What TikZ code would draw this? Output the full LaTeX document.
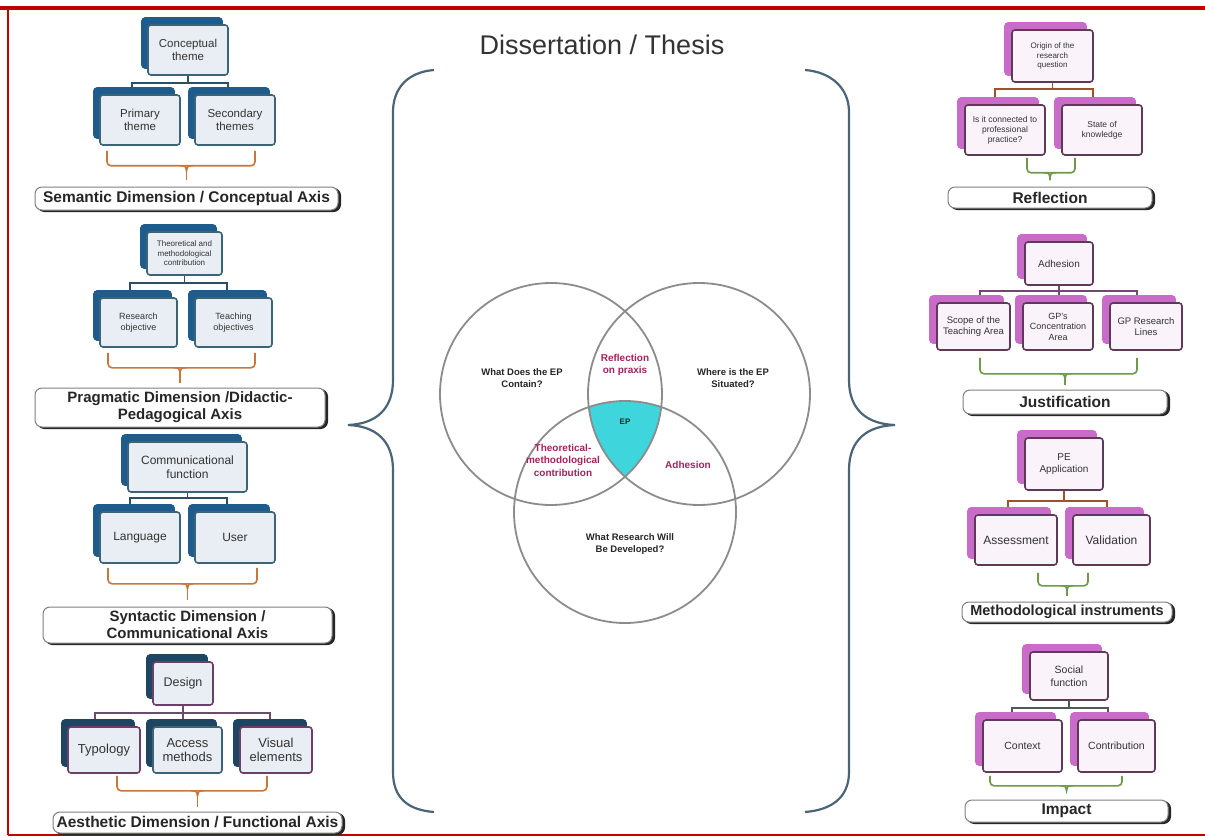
\documentclass[tikz,border=0pt]{standalone}
\usepackage{fontspec}
\setmainfont{Liberation Sans}
\usetikzlibrary{shadows,calc}
\definecolor{framered}{HTML}{C00000}
\definecolor{bfill}{HTML}{E9EEF4}
\definecolor{bborder}{HTML}{3B6577}
\definecolor{bshadow}{HTML}{1F5C8E}
\definecolor{dshadow}{HTML}{1E4561}
\definecolor{mborder}{HTML}{6B3F68}
\definecolor{pfill}{HTML}{FBF3FA}
\definecolor{pborder}{HTML}{5E3A58}
\definecolor{pshadow}{HTML}{C96BC9}
\definecolor{cblue}{HTML}{2E4E63}
\definecolor{cmauve}{HTML}{6E4A6E}
\definecolor{csienna}{HTML}{A0522D}
\definecolor{cslate}{HTML}{4E5A5A}
\definecolor{corange}{HTML}{C8773C}
\definecolor{cgreen}{HTML}{6E9A4A}
\definecolor{txtgray}{HTML}{333333}
\definecolor{labgray}{HTML}{808080}
\definecolor{bracecol}{HTML}{4A6478}
\definecolor{venngray}{HTML}{8C8C8C}
\definecolor{venncyan}{HTML}{3FD5DC}
\definecolor{vennmag}{HTML}{A3245C}
\newcommand\fsz[2]{\fontsize{#1}{#2}\selectfont}
% bracket tick: #1 colour, #2 coordinate on the bracket's horizontal, #3 label node, #4 gap above label
\newcommand\brtick[4]{%
  \draw[line width=1.6pt, draw=#1] ($(#2 -| #3.north)+(-6,0)$) .. controls ($(#2 -| #3.north)+(-1,0)$) .. ($(#2 -| #3.north)+(0,5)$) .. controls ($(#2 -| #3.north)+(1,0)$) .. ($(#2 -| #3.north)+(6,0)$);
  \draw[line width=1.6pt, draw=#1] ($(#2 -| #3.north)+(0,4)$) -- ([yshift=#4]#3.north);}
\tikzset{
  bx/.style={rectangle, rounded corners=3pt, draw=#1, line width=1.6pt, align=center, inner sep=1pt, text=txtgray},
  bluebox/.style={bx=#1, fill=bfill, general shadow={shadow xshift=-6pt, shadow yshift=7pt, fill=bshadow, draw=bshadow}},
  navybox/.style={bx=#1, fill=bfill, general shadow={shadow xshift=-6pt, shadow yshift=7pt, fill=dshadow, draw=dshadow}},
  pinkbox/.style={bx=pborder, fill=pfill, general shadow={shadow xshift=-7pt, shadow yshift=7pt, fill=pshadow, draw=pshadow}},
  lab/.style={rectangle, rounded corners=7pt, draw=labgray, line width=1pt, fill=white, align=center, inner sep=0pt, text=black!85, general shadow={shadow xshift=2.5pt, shadow yshift=-1.5pt, fill=black!85, draw=black!85}},
  conn/.style={line width=1.6pt, draw=#1},
  brk/.style={line width=1.6pt, draw=#1, rounded corners=4pt},
  brace/.style={line width=2.2pt, draw=bracecol},
  venn/.style={line width=1.8pt, draw=venngray},
  vt/.style={align=center, font=\bfseries\fsz{9.5}{12.5}, text=black!85},
  vm/.style={align=center, font=\bfseries\fsz{10}{12.5}, text=vennmag},
}
\begin{document}
\begin{tikzpicture}[x=1pt, y=-1pt]
\useasboundingbox (0,0) rectangle (1205,840);
\fill[white] (0,0) rectangle (1205,840);
% frame
\draw[framered, line width=3.5pt] (0,8) -- (1205,8);
\draw[framered, line width=2pt] (8,8) -- (8,835);
\draw[framered, line width=2.5pt] (8,835) -- (1205,835);

% title
\node[font=\fsz{27}{30}, text=black!80] (title) at (602,45) {Dissertation / Thesis};

% braces
\draw[brace] (434,70) .. controls (408,72) and (393,88) .. (393,112) -- (393,380) .. controls (393,410) and (375,424) .. (348,425) .. controls (375,426) and (393,440) .. (393,470) -- (393,772) .. controls (393,798) and (408,810) .. (434,812);
\draw[brace] (805,70) .. controls (831,72) and (849,88) .. (849,112) -- (849,380) .. controls (849,410) and (867,424) .. (895,425) .. controls (867,426) and (849,440) .. (849,470) -- (849,772) .. controls (849,798) and (831,810) .. (805,812);

% ===== Left group 1 =====
\node[bluebox=bborder, minimum width=80pt, minimum height=50pt, font=\fsz{11.5}{13.5}] (ct) at (188,50) {Conceptual\\theme};
\node[bluebox=bborder, minimum width=80pt, minimum height=50pt, font=\fsz{11.5}{13.5}] (pt) at (140,120) {Primary\\theme};
\node[bluebox=bborder, minimum width=80pt, minimum height=50pt, font=\fsz{11.5}{13.5}] (st) at (235,120) {Secondary\\themes};
\draw[conn=cblue] (ct.south) -- ++(0,7) coordinate (j1);
\draw[conn=cblue] ([shift={(-8pt,7pt)}]pt.north) |- (j1) -| ([shift={(-7pt,7pt)}]st.north);
\node[lab, minimum width=303pt, minimum height=23pt, font=\bfseries\fsz{15.5}{16}] (lab1) at (186.5,198.5) {Semantic Dimension / Conceptual Axis};
\draw[brk=corange] ([shift={(-33pt,-5pt)}]pt.south) -- ++(0,15) coordinate (h1) -| ([shift={(20pt,-5pt)}]st.south);
\brtick{corange}{h1}{lab1}{7pt}

% ===== Left group 2 =====
\node[bluebox=bborder, minimum width=75pt, minimum height=43pt, font=\fsz{8}{9.5}] (tm) at (184.5,253.5) {Theoretical and\\methodological\\contribution};
\node[bluebox=bborder, minimum width=77pt, minimum height=49pt, font=\fsz{9}{11}] (ro) at (138.5,322.5) {Research\\objective};
\node[bluebox=bborder, minimum width=77pt, minimum height=49pt, font=\fsz{9}{11}] (to) at (233.5,322.5) {Teaching\\objectives};
\draw[conn=cblue] (tm.south) -- ++(0,7) coordinate (j2);
\draw[conn=cblue] ([shift={(-8.5pt,7pt)}]ro.north) |- (j2) -| ([shift={(-6.5pt,7pt)}]to.north);
\node[lab, minimum width=290pt, minimum height=39pt, font=\bfseries\fsz{15}{17}] (lab2) at (180,407.5) {Pragmatic Dimension /Didactic-\\Pedagogical Axis};
\draw[brk=corange] ([shift={(-30.5pt,-5pt)}]ro.south) -- ++(0,15) coordinate (h2) -| ([shift={(21.5pt,-5pt)}]to.south);
\brtick{corange}{h2}{lab2}{5pt}

% ===== Left group 3 =====
\node[bluebox=bborder, minimum width=119pt, minimum height=50pt, font=\fsz{12}{14}] (cf) at (187.5,467) {Communicational\\function};
\node[bluebox=bborder, minimum width=80pt, minimum height=51pt, font=\fsz{12}{14}] (lg) at (140,537.5) {Language};
\node[bluebox=bborder, minimum width=80pt, minimum height=51pt, font=\fsz{12}{14}] (us) at (235,537.5) {User};
\draw[conn=cblue] (cf.south) -- ++(0,5) coordinate (j3);
\draw[conn=cblue] ([shift={(-10pt,7pt)}]lg.north) |- (j3) -| ([shift={(-8pt,7pt)}]us.north);
\node[lab, minimum width=289pt, minimum height=36pt, font=\bfseries\fsz{15}{17}] (lab3) at (187.5,625) {Syntactic Dimension /\\Communicational Axis};
\draw[brk=corange] ([shift={(-32pt,-4pt)}]lg.south) -- ++(0,16) coordinate (h3) -| ([shift={(22pt,-4pt)}]us.south);
\brtick{corange}{h3}{lab3}{7pt}

% ===== Left group 4 =====
\node[navybox=mborder, minimum width=60pt, minimum height=43pt, font=\fsz{12.5}{14}] (dg) at (183,683.5) {Design};
\node[navybox=mborder, minimum width=72pt, minimum height=46pt, font=\fsz{13}{14.5}] (ty) at (104,750) {Typology};
\node[navybox=bborder, minimum width=69pt, minimum height=46pt, font=\fsz{13}{14.5}] (am) at (187.5,750) {Access\\methods};
\node[navybox=mborder, minimum width=72pt, minimum height=46pt, font=\fsz{13}{14.5}] (ve) at (276,750) {Visual\\elements};
\draw[conn=cmauve] (dg.south) -- ([shift={(-4.5pt,7pt)}]am.north);
\coordinate (j4) at ([yshift=-7pt]dg.south);
\draw[conn=cmauve] ([shift={(-9pt,7pt)}]ty.north) |- (j4) -| ([shift={(-6pt,7pt)}]ve.north);
\node[lab, minimum width=289pt, minimum height=21pt, font=\bfseries\fsz{15.5}{16}] (lab4) at (197.5,822.5) {Aesthetic Dimension / Functional Axis};
\draw[brk=corange] ([shift={(13pt,-2pt)}]ty.south) -- ++(0,15) coordinate (h4) -| ([shift={(-9pt,-2pt)}]ve.south);
\brtick{corange}{h4}{lab4}{5pt}

% ===== Right group 1 =====
\node[pinkbox, minimum width=81pt, minimum height=52pt, font=\fsz{8}{9.5}] (oq) at (1052.5,56) {Origin of the\\research\\question};
\node[pinkbox, minimum width=80pt, minimum height=50pt, font=\fsz{8.5}{10}] (ic) at (1005,130) {Is it connected to\\professional\\practice?};
\node[pinkbox, minimum width=80pt, minimum height=50pt, font=\fsz{8.5}{10}] (sk) at (1102,130) {State of\\knowledge};
\draw[conn=csienna] (oq.south) -- ++(0,6) coordinate (j5);
\draw[conn=csienna] ([shift={(-10pt,7pt)}]ic.north) |- (j5) -| ([shift={(-9pt,7pt)}]sk.north);
\node[lab, minimum width=204pt, minimum height=21pt, font=\bfseries\fsz{15.5}{17}] (lab5) at (1050,197.5) {Reflection};
\draw[brk=cgreen] ([shift={(22pt,-2pt)}]ic.south) -- ++(0,15) coordinate (h5) -| ([shift={(-27pt,-2pt)}]sk.south);
\brtick{cgreen}{h5}{lab5}{7pt}

% ===== Right group 2 =====
\node[pinkbox, minimum width=68pt, minimum height=43pt, font=\fsz{10}{12}] (ad) at (1059,263.5) {Adhesion};
\node[pinkbox, minimum width=73pt, minimum height=47pt, font=\fsz{9.5}{11}] (sc) at (973.5,326.5) {Scope of the\\Teaching Area};
\node[pinkbox, minimum width=70pt, minimum height=47pt, font=\fsz{9}{10.5}] (gc) at (1058,326.5) {GP's\\Concentration\\Area};
\node[pinkbox, minimum width=72pt, minimum height=47pt, font=\fsz{9.5}{11}] (gr) at (1146,326.5) {GP Research\\Lines};
\draw[conn=cmauve] (ad.south) -- ([shift={(1pt,7pt)}]gc.north);
\coordinate (j6) at ([yshift=-5pt]ad.south);
\draw[conn=cmauve] ([shift={(6.5pt,7pt)}]sc.north) |- (j6) -| ([shift={(-9pt,7pt)}]gr.north);
\node[lab, minimum width=204pt, minimum height=24pt, font=\bfseries\fsz{15.5}{17}] (lab6) at (1065,402) {Justification};
\draw[brk=cgreen] ([shift={(6.5pt,-7pt)}]sc.south) -- ++(0,16) coordinate (h6) -| ([shift={(-9pt,-7pt)}]gr.south);
\brtick{cgreen}{h6}{lab6}{5pt}

% ===== Right group 3 =====
\node[pinkbox, minimum width=78pt, minimum height=52pt, font=\fsz{10}{12}] (pe) at (1064,464) {PE\\Application};
\node[pinkbox, minimum width=82pt, minimum height=50pt, font=\fsz{12}{14}] (as) at (1016,540) {Assessment};
\node[pinkbox, minimum width=77pt, minimum height=50pt, font=\fsz{12}{14}] (va) at (1111.5,540) {Validation};
\draw[conn=csienna] (pe.south) -- ++(0,10) coordinate (j7);
\draw[conn=csienna] ([shift={(-8pt,7pt)}]as.north) |- (j7) -| ([shift={(-4.5pt,7pt)}]va.north);
\node[lab, minimum width=210pt, minimum height=20pt, font=\bfseries\fsz{14.5}{16}] (lab7) at (1067,612) {Methodological instruments};
\draw[brk=cgreen] ([shift={(22pt,-7pt)}]as.south) -- ++(0,13) coordinate (h7) -| ([shift={(-23.5pt,-7pt)}]va.south);
\brtick{cgreen}{h7}{lab7}{6pt}

% ===== Right group 4 =====
\node[pinkbox, minimum width=78pt, minimum height=48pt, font=\fsz{10.5}{12.5}] (sf) at (1069,676) {Social\\function};
\node[pinkbox, minimum width=79pt, minimum height=52pt, font=\fsz{10.5}{12.5}] (cx) at (1022.5,746) {Context};
\node[pinkbox, minimum width=77pt, minimum height=52pt, font=\fsz{10.5}{12.5}] (cb) at (1116.5,746) {Contribution};
\draw[conn=cslate] (sf.south) -- ++(0,7) coordinate (j8);
\draw[conn=cslate] ([shift={(-10.5pt,7pt)}]cx.north) |- (j8) -| ([shift={(-8.5pt,7pt)}]cb.north);
\node[lab, minimum width=203pt, minimum height=22pt, font=\bfseries\fsz{15.5}{17}] (lab8) at (1066.5,811) {Impact};
\draw[brk=cgreen] ([shift={(-32.5pt,-3pt)}]cx.south) -- ++(0,10) coordinate (h8) -| ([shift={(5.5pt,-3pt)}]cb.south);
\brtick{cgreen}{h8}{lab8}{8pt}

% ===== Venn =====
\coordinate (vA) at (551,394);
\coordinate (vB) at (699,394);
\coordinate (vC) at (625,512);
\begin{scope}
  \clip (vA) circle[radius=111pt];
  \clip (vB) circle[radius=111pt];
  \fill[venncyan] (vC) circle[radius=111pt];
\end{scope}
\draw[venn] (vA) circle[radius=111pt];
\draw[venn] (vB) circle[radius=111pt];
\draw[venn] (vC) circle[radius=111pt];
\node[vt] (tA) at (522,378) {What Does the EP\\Contain?};
\node[vt] (tB) at (733,378) {Where is the EP\\Situated?};
\node[vt] (tC) at (630,544) {What Research Will\\Be Developed?};
\node[vm] (tAB) at (625,365) {Reflection\\on praxis};
\node[vm] (tAC) at (563,460) {Theoretical-\\methodological\\contribution};
\node[vm] (tBC) at (688,465) {Adhesion};
\node[vt, font=\bfseries\fsz{8}{10}] (tEP) at (625,422) {EP};
\end{tikzpicture}
\end{document}
